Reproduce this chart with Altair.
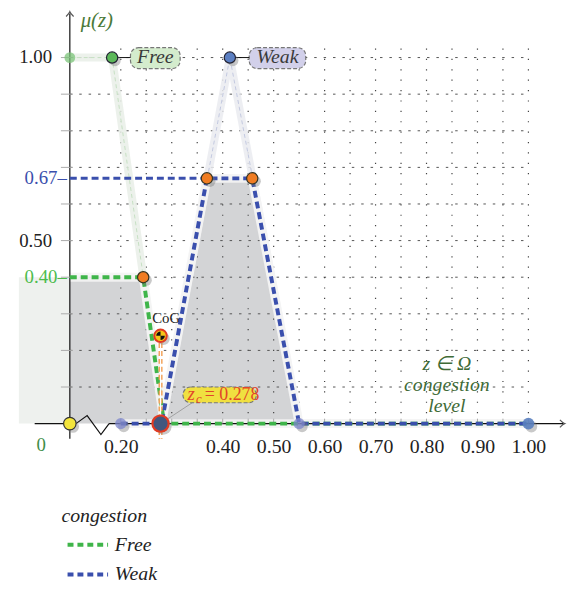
import altair as alt
import pandas as pd

# ---------------- data ----------------
# membership functions (un-clipped)
free_def_z = [0.10, 0.183, 0.285]
free_def_mu = [1.0, 1.0, 0.0]
weak_def_z = [0.28, 0.414, 0.55]
weak_def_mu = [0.0, 1.0, 0.0]

# activated (clipped) sets
free_cut_z = [0.10, 0.244, 0.285, 1.00]
free_cut_mu = [0.40, 0.40, 0.0, 0.0]
weak_cut_z = [0.20, 0.28, 0.369, 0.458, 0.55, 1.00]
weak_cut_mu = [0.0, 0.0, 0.67, 0.67, 0.0, 0.0]

# region left of the y axis (z from 0 to 0.1)
pre_z = [0.0, 0.10]
pre_mu = [0.40, 0.40]

alpha_free = 0.40
alpha_weak = 0.67
axis_z = 0.10
z_c = 0.278
cog_mu = 0.24

x_label_values = [0.2, 0.4, 0.5, 0.6, 0.7, 0.8, 0.9, 1.0]
y_label_text = ["1.00", "0.67–", "0.50", "0.40–"]
y_label_values = [1.0, 0.67, 0.5, 0.4]
grid_mu = [0.1, 0.2, 0.3, 0.4, 0.5, 0.6, 0.7, 0.8, 0.9, 1.0]
grid_z = [0.2, 0.25, 0.3, 0.35, 0.4, 0.45, 0.5, 0.55, 0.6, 0.65, 0.7,
          0.75, 0.8, 0.85, 0.9, 0.95, 1.0]

series = ["Free", "Weak"]

# ---------------- styling ----------------
GREEN = "#3fb54a"
BLUE = "#3a4fad"
FONT = "Liberation Serif"
W, H = 554, 417
PXZ, PXM = 515.0, 370.0          # pixels per unit

xs = alt.Scale(domain=[0, W / PXZ], nice=False, zero=False)
ys = alt.Scale(domain=[0, H / PXM], nice=False, zero=False)

X_AXIS = alt.Axis(values=x_label_values, format=".2f", domain=False, ticks=False,
                  grid=False, title=None, labelFont=FONT, labelFontSize=20,
                  labelColor="#222", labelPadding=13)


def X(f="z"):
    return alt.X(f, type="quantitative", scale=xs, axis=X_AXIS)


def Y(f="mu"):
    return alt.Y(f, type="quantitative", scale=ys, axis=None)


def df_of(zs, mus):
    return pd.DataFrame({"z": zs, "mu": mus, "i": list(range(len(zs)))})


def line(zs, mus, **mk):
    return alt.Chart(df_of(zs, mus)).mark_line(**mk).encode(
        x=X(), y=Y(), order="i:Q")


def rule(z1, m1, z2, m2, **mk):
    d = pd.DataFrame({"z": [z1], "mu": [m1], "z2": [z2], "mu2": [m2]})
    return alt.Chart(d).mark_rule(**mk).encode(
        x=X(), y=Y(), x2="z2", y2="mu2")


def pts(zs, mus, shadow=True, **mk):
    d = df_of(zs, mus)
    layers = []
    if shadow:
        sd = d.assign(z=d.z + 3 / PXZ, mu=d.mu - 3 / PXM)
        layers.append(alt.Chart(sd).mark_circle(
            color="#777", opacity=0.4, size=mk.get("size", 120)).encode(x=X(), y=Y()))
    layers.append(alt.Chart(d).mark_point(filled=True, **mk).encode(x=X(), y=Y()))
    return layers


def txt(text, z, mu, **mk):
    d = pd.DataFrame({"z": [z], "mu": [mu], "t": [text]})
    return alt.Chart(d).mark_text(font=FONT, **mk).encode(x=X(), y=Y(), text="t:N")


layers = []

# --- filled areas ---
layers.append(alt.Chart(df_of(pre_z, pre_mu)).mark_area(color="#eef1ee").encode(x=X(), y=Y()))
area_df = pd.concat([
    df_of(free_cut_z[:3], free_cut_mu[:3]).assign(part="free"),
    df_of(weak_cut_z[1:5], weak_cut_mu[1:5]).assign(part="weak"),
])
layers.append(alt.Chart(area_df).mark_area(color="#d3d4d6").encode(
    x=X(), y=Y(), detail="part:N"))

# --- dotted grid ---
hg = pd.DataFrame({"mu": grid_mu, "z": axis_z, "z2": 1.0})
layers.append(alt.Chart(hg).mark_rule(color="#555", strokeWidth=1, strokeDash=[2.5, 7]).encode(
    x=X(), x2="z2", y=Y()))
vg = pd.DataFrame({"z": grid_z, "mu": 0.0, "mu2": 1.035})
layers.append(alt.Chart(vg).mark_rule(color="#444", strokeWidth=1.2, strokeDash=[1.2, 9.3]).encode(
    x=X(), y=Y(), y2="mu2"))

# --- faint original membership functions ---
layers.append(line(free_def_z, free_def_mu, color="#e9eee8", strokeWidth=8, opacity=0.85))
layers.append(line(free_def_z, free_def_mu, color="#c6e0c3", strokeWidth=1, strokeDash=[4, 3]))
layers.append(line(weak_def_z, weak_def_mu, color="#eaebf0", strokeWidth=8, opacity=0.85))
layers.append(line(weak_def_z, weak_def_mu, color="#c2c8e0", strokeWidth=1, strokeDash=[4, 3]))

# --- halos under the dashed activated sets ---
layers.append(line(free_cut_z, free_cut_mu, color="#f4f4f4", strokeWidth=9, opacity=0.9))
layers.append(line(weak_cut_z, weak_cut_mu, color="#f4f4f4", strokeWidth=9, opacity=0.9))

# --- axes ---
layers.append(rule(0.031, 0, 0.112, 0, color="#111", strokeWidth=1.2))
layers.append(rule(0.177, 0, 1.068, 0, color="#111", strokeWidth=1.2))
layers.append(line([0.112, 0.134, 0.161, 0.177], [0, 0.022, -0.03, 0],
                   color="#111", strokeWidth=1.2))
layers.append(rule(axis_z, -0.041, axis_z, 1.12, color="#111", strokeWidth=1.2))
layers.append(alt.Chart(pd.DataFrame({"z": [1.071], "mu": [0.0]})).mark_point(
    shape="M -1 -0.8 Q -0.3 -0.1 0 0 Q -0.3 0.1 -1 0.8", size=90, color="#111",
    strokeWidth=1.2, filled=False).encode(x=X(), y=Y()))
layers.append(alt.Chart(pd.DataFrame({"z": [axis_z], "mu": [1.125]})).mark_point(
    shape="M -0.8 1 Q -0.1 0.3 0 0 Q 0.1 0.3 0.8 1", size=90, color="#111",
    strokeWidth=1.2, filled=False).encode(x=X(), y=Y()))
yt = pd.DataFrame({"mu": grid_mu, "z": axis_z - 9 / PXZ, "z2": axis_z + 3 / PXZ})
layers.append(alt.Chart(yt).mark_rule(color="#aaa", strokeWidth=1).encode(x=X(), x2="z2", y=Y()))
xt = pd.DataFrame({"z": grid_z, "mu": 0.0, "mu2": 5 / PXM})
layers.append(alt.Chart(xt).mark_rule(color="#aaa", strokeWidth=1).encode(x=X(), y=Y(), y2="mu2"))

# --- dashed activated sets (legend) ---
cut_df = pd.concat([
    df_of(free_cut_z, free_cut_mu).assign(series="Free"),
    df_of(weak_cut_z, weak_cut_mu).assign(series="Weak"),
])
layers.append(alt.Chart(cut_df).mark_line(strokeWidth=4, strokeDash=[7, 4]).encode(
    x=X(), y=Y(), order="i:Q",
    color=alt.Color("series:N", scale=alt.Scale(domain=series, range=[GREEN, BLUE]),
                    legend=alt.Legend(title="congestion", orient="none", legendX=43, legendY=500,
                                      titleFont=FONT, titleFontSize=20, titleFontStyle="italic",
                                      titleFontWeight="normal", titleColor="#222", titlePadding=7,
                                      labelFont=FONT, labelFontSize=20, labelFontStyle="italic",
                                      labelColor="#222", labelOffset=29, rowPadding=7,
                                      symbolType="M -0.6 0 L 3.3 0", symbolSize=441,
                                      symbolStrokeWidth=4, symbolDash=[6, 4],
                                      symbolOpacity=1))))
# alpha-level extension of Weak to the axis
layers.append(line([axis_z, weak_cut_z[2]], [alpha_weak, alpha_weak], color=BLUE,
                   strokeWidth=3, strokeDash=[7, 4]))

# --- CoG projection ---
layers.append(rule(z_c, cog_mu - 0.02, z_c, -0.041, color="#f19a4a", strokeWidth=4, strokeDash=[5, 3]))
layers.append(rule(z_c, cog_mu - 0.02, z_c, -0.041, color="#ffffff", strokeWidth=1.3))
layers.append(rule(z_c, 0.0, 0.3456, 0.062, color="#999", strokeWidth=0.9))

# --- label boxes ---
boxes = pd.DataFrame({
    "z": [0.219, 0.452, 0.322], "z2": [0.3165, 0.563, 0.466],
    "mu": [0.970, 0.970, 0.057], "mu2": [1.027, 1.027, 0.100],
    "fill": ["#d4eccd", "#d2d0ea", "#f0e040"]})
layers.append(alt.Chart(boxes).mark_rect(cornerRadius=8, stroke="#777", strokeWidth=1.2,
                                         strokeDash=[4, 2]).encode(
    x=X(), x2="z2", y=Y(), y2="mu2", fill=alt.Fill("fill:N", scale=None)))
layers.append(rule(free_def_z[1], 1.0, 0.219, 1.0, color="#111", strokeWidth=1))
layers.append(rule(weak_def_z[1], 1.0, 0.452, 1.0, color="#111", strokeWidth=1))

# --- points ---
layers += pts([axis_z], [1.0], shadow=False, size=120, color="#7cc47a", opacity=0.75)
layers += pts([free_def_z[1]], [1.0], size=130, fill="#5cb85a", stroke="#223", strokeWidth=1.2, opacity=1)
layers += pts([weak_def_z[1]], [1.0], size=130, fill="#5b7fc2", stroke="#223", strokeWidth=1.2, opacity=1)
layers += pts([free_cut_z[1], weak_cut_z[2], weak_cut_z[3]], [alpha_free, alpha_weak, alpha_weak],
              size=130, fill="#f07c22", stroke="#332", strokeWidth=1.2, opacity=1)
layers += pts([weak_cut_z[0], weak_cut_z[4]], [0, 0], size=130, fill="#7c86cc", opacity=0.75)
layers += pts([weak_cut_z[5]], [0], size=140, fill="#5a80bf", opacity=0.9)
layers += pts([axis_z], [0], size=160, fill="#f3e53c", stroke="#333", strokeWidth=1.2, opacity=1)
layers += pts([z_c], [0], size=270, fill="#42577e", stroke="#e03a22", strokeWidth=2.2, opacity=1)
# CoG marker
layers += pts([z_c], [cog_mu], size=160, fill="#f5c518", stroke="#e03a22", strokeWidth=2, opacity=1)
layers.append(alt.Chart(pd.DataFrame({"z": [z_c], "mu": [cog_mu]})).mark_point(
    shape="M0,0 L1,0 A1,1 0 0,1 0,1 Z M0,0 L-1,0 A1,1 0 0,1 0,-1 Z",
    size=75, filled=True, color="#111", opacity=1).encode(x=X(), y=Y()))

# --- texts ---
layers.append(txt("Free", 0.2678, 1.0, fontSize=20, fontStyle="italic", color="#3a3a3a"))
layers.append(txt("Weak", 0.5075, 1.0, fontSize=20, fontStyle="italic", color="#3a3a3a"))
layers.append(txt("μ(z)", 0.153, 1.10, fontSize=21, fontStyle="italic", color="#4a7a3a"))
layers.append(txt("z ∈ Ω", 0.84, 0.162, fontSize=20, fontStyle="italic", color="#3f6b37"))
layers.append(txt("congestion", 0.84, 0.105, fontSize=20, fontStyle="italic", color="#3f6b37"))
layers.append(txt("level", 0.84, 0.049, fontSize=20, fontStyle="italic", color="#3f6b37"))
layers.append(txt("CoG", 0.289, 0.289, fontSize=15, color="#222"))
layers.append(txt("z", 0.338, 0.081, fontSize=19, fontStyle="italic", color="#e2452a"))
layers.append(txt("c", 0.3534, 0.066, fontSize=13, fontStyle="italic", color="#e2452a"))
layers.append(txt("= 0.278", 0.365, 0.079, fontSize=18, align="left", color="#e2452a"))

ylab = pd.DataFrame({"z": axis_z, "mu": y_label_values, "t": y_label_text,
                     "c": ["#222", BLUE, "#222", "#4cbc4c"],
                     "dx": [-18, -3, -18, -3]})
for k in range(len(ylab)):
    r = ylab.iloc[k]
    layers.append(txt(r.t, r.z, r.mu, fontSize=19, align="right", dx=int(r.dx), color=r.c))
layers.append(txt("0", axis_z, 0.0, fontSize=19, dx=-29, dy=22, color="#3e8e48"))

chart = alt.layer(*layers).properties(
    width=W, height=H,
    padding={"left": 11, "top": 0, "right": 0, "bottom": 158},
    autosize=alt.AutoSizeParams(type="none"),
).configure_view(stroke=None)

chart.save("out.html", embed_options={"renderer": "svg", "actions": False})
